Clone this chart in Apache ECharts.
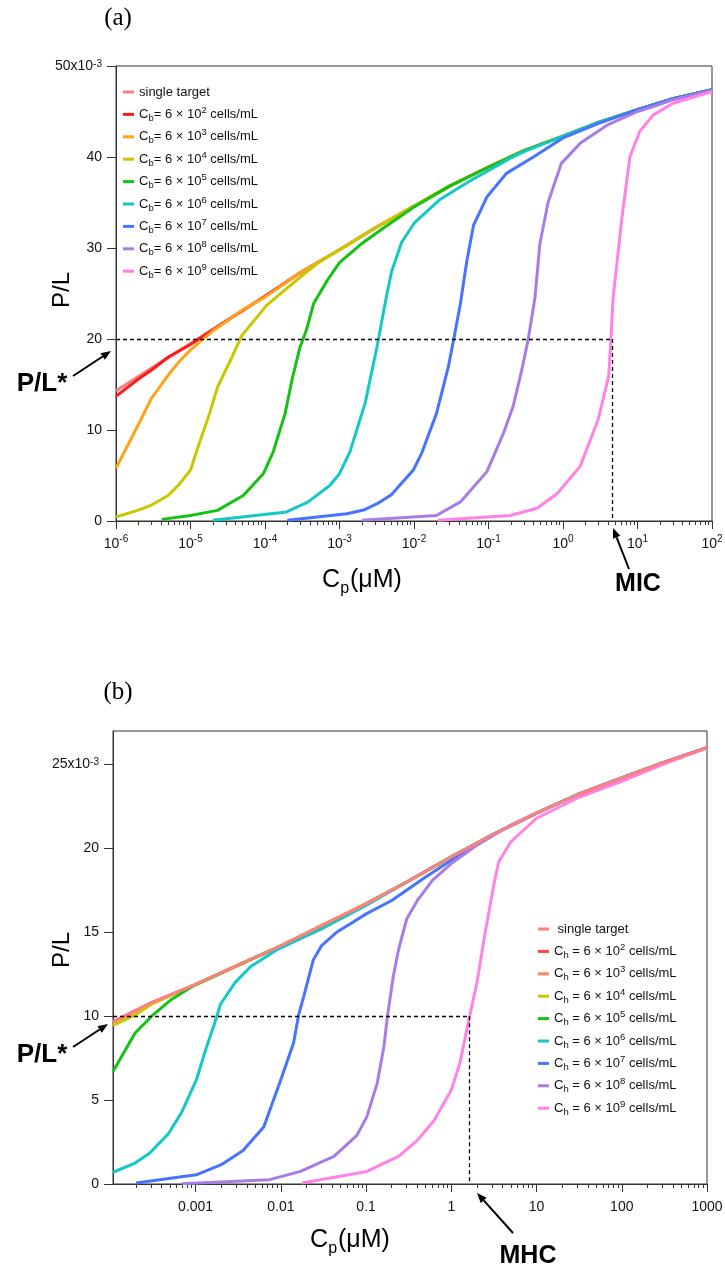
<!DOCTYPE html>
<html>
<head>
<meta charset="utf-8">
<title>P/L vs Cp</title>
<script src="https://cdn.jsdelivr.net/npm/echarts@6.0.0/dist/echarts.min.js"></script>
<style>
  html, body { margin: 0; padding: 0; background: #fff; }
  #chart { width: 725px; height: 1269px; }
</style>
</head>
<body>
<div id="chart"></div>
<script>
/* ---- panel (a): bacteria, [Cp (uM), P/L x1e-3] ---- */
var aSingle = [[1e-6,14.3],[3e-6,16.8],[1e-5,19.5],[3e-5,22.0],[1e-4,24.7],[3e-4,27.3],[1e-3,29.8],[3e-3,32.2],[1e-2,34.6],[3e-2,36.8],[0.1,38.9],[0.3,40.7],[1,42.3],[3,43.8],[10,45.2],[30,46.4],[100,47.4]];
var aCb2 = [[1e-6,13.7],[2e-6,15.6],[3e-6,16.6],[5e-6,18.0],[1e-5,19.4],[3e-5,21.95],[1e-4,24.7],[3e-4,27.3],[1e-3,29.8],[3e-3,32.2],[1e-2,34.6],[3e-2,36.8],[0.1,38.9],[0.3,40.7],[1,42.3],[3,43.8],[10,45.2],[30,46.4],[100,47.4]];
var aCb3 = [[1e-6,5.8],[2e-6,10.6],[3e-6,13.5],[5e-6,16.0],[7e-6,17.5],[1e-5,18.8],[2e-5,20.9],[3e-5,21.9],[5e-5,23.2],[1e-4,24.6],[3e-4,27.3],[1e-3,29.8],[3e-3,32.2],[1e-2,34.6],[3e-2,36.8],[0.1,38.9],[0.3,40.7],[1,42.3],[3,43.8],[10,45.2],[30,46.4],[100,47.4]];
var aCb4 = [[1e-6,0.44],[2e-6,1.2],[3e-6,1.75],[5e-6,2.8],[7e-6,4.0],[1e-5,5.6],[1.26e-5,8.1],[1.8e-5,11.8],[2.3e-5,14.7],[3.5e-5,17.8],[4.9e-5,20.4],[1.05e-4,23.7],[2.6e-4,26.4],[5e-4,28.3],[1e-3,29.8],[3e-3,32.2],[1e-2,34.6],[3e-2,36.8],[0.1,38.9],[0.3,40.7],[1,42.3],[3,43.8],[10,45.2],[30,46.4],[100,47.4]];
var aCb5 = [[4.1e-6,0.18],[1e-5,0.6],[2.3e-5,1.17],[5.1e-5,2.8],[9.5e-5,5.2],[1.29e-4,7.6],[1.86e-4,11.8],[2.3e-4,15.5],[2.95e-4,19.1],[3.6e-4,21.0],[4.5e-4,23.9],[6.8e-4,26.4],[1e-3,28.4],[2e-3,30.5],[3.9e-3,32.2],[1e-2,34.5],[3e-2,36.8],[0.1,38.9],[0.3,40.7],[1,42.3],[3,43.8],[10,45.2],[30,46.4],[100,47.4]];
var aCb6 = [[2.0e-5,0.07],[1.95e-4,1.0],[3.8e-4,2.1],[7.4e-4,3.9],[1.0e-3,5.2],[1.38e-3,7.6],[2.2e-3,12.9],[3.2e-3,19.2],[3.9e-3,23.0],[4.3e-3,24.8],[5.0e-3,27.4],[6.8e-3,30.6],[1.02e-2,32.8],[2.2e-2,35.3],[6.3e-2,37.6],[0.2,39.9],[0.3,40.6],[1,42.3],[3,43.8],[10,45.2],[30,46.4],[100,47.4]];
var aCb7 = [[2.0e-4,0.07],[1.26e-3,0.8],[2.1e-3,1.2],[3.2e-3,1.9],[5.0e-3,2.9],[9.8e-3,5.6],[1.26e-2,7.4],[2.0e-2,11.8],[2.9e-2,17.0],[3.4e-2,19.9],[4.2e-2,23.9],[5.1e-2,28.5],[6.3e-2,32.5],[9.5e-2,35.6],[0.174,38.2],[0.4,40.0],[1,42.1],[3,43.7],[10,45.2],[30,46.4],[100,47.4]];
var aCb8 = [[2.0e-3,0.07],[2.0e-2,0.6],[4.2e-2,2.1],[9.5e-2,5.4],[0.158,9.6],[0.214,12.6],[0.28,16.6],[0.34,19.9],[0.42,24.5],[0.49,30.5],[0.63,35.0],[0.95,39.3],[1.7,41.5],[3.9,43.5],[10,45.0],[20,45.8],[30,46.3],[100,47.3]];
var aCb9 = [[2.1e-2,0.07],[0.195,0.6],[0.45,1.4],[0.83,3.0],[1.7,6.0],[2.95,11.1],[4.1,15.9],[4.4,19.9],[4.7,24.5],[6.2,33.4],[7.9,40.0],[10.7,42.8],[16.2,44.6],[30,45.9],[100,47.2]];

/* ---- panel (b): red blood cells ---- */
var bSingle = [[1.073e-4,9.7],[3e-4,10.8],[1e-3,11.9],[3e-3,13.0],[1e-2,14.2],[3e-2,15.4],[0.1,16.7],[0.3,18.0],[1,19.5],[3,20.8],[10,22.1],[30,23.2],[100,24.2],[300,25.1],[1000,26.0]];
var bCh2 = [[1.073e-4,9.65],[3e-4,10.8],[1e-3,11.9],[3e-3,13.0],[1e-2,14.2],[3e-2,15.4],[0.1,16.7],[0.3,18.0],[1,19.5],[3,20.8],[10,22.1],[30,23.2],[100,24.2],[300,25.1],[1000,26.0]];
var bCh3 = [[1.073e-4,9.6],[3e-4,10.75],[1e-3,11.9],[3e-3,13.0],[1e-2,14.2],[3e-2,15.4],[0.1,16.7],[0.3,18.0],[1,19.5],[3,20.8],[10,22.1],[30,23.2],[100,24.2],[300,25.1],[1000,26.0]];
var bCh4 = [[1.073e-4,9.45],[2e-4,10.1],[3e-4,10.7],[1e-3,11.9],[3e-3,13.0],[1e-2,14.2],[3e-2,15.4],[0.1,16.7],[0.3,18.0],[1,19.5],[3,20.8],[10,22.1],[30,23.2],[100,24.2],[300,25.1],[1000,26.0]];
var bCh5 = [[1.073e-4,6.7],[1.95e-4,9.0],[3.2e-4,10.1],[5.2e-4,11.0],[9.3e-4,11.8],[2.75e-3,12.9],[7.5e-3,13.9],[3e-2,15.3],[0.1,16.7],[0.3,18.0],[1,19.5],[3,20.8],[10,22.1],[30,23.2],[100,24.2],[300,25.1],[1000,26.0]];
var bCh6 = [[1.073e-4,0.7],[1.95e-4,1.25],[2.9e-4,1.85],[4.8e-4,3.0],[6.9e-4,4.3],[1.02e-3,6.2],[1.35e-3,8.2],[1.78e-3,10.0],[1.95e-3,10.7],[2.9e-3,12.0],[4.4e-3,12.95],[8.9e-3,13.95],[3e-2,15.2],[0.1,16.6],[0.3,18.0],[1,19.5],[3,20.8],[10,22.1],[30,23.2],[100,24.2],[300,25.1],[1000,26.0]];
var bCh7 = [[2.0e-4,0.06],[1.02e-3,0.55],[2.0e-3,1.15],[3.6e-3,2.0],[6.3e-3,3.4],[9.8e-3,6.1],[1.41e-2,8.4],[1.62e-2,10.1],[1.86e-2,11.2],[2.4e-2,13.35],[3.0e-2,14.2],[4.5e-2,15.0],[0.07,15.6],[0.1,16.1],[0.2,16.9],[0.5,18.3],[1,19.3],[3,20.8],[10,22.1],[30,23.2],[100,24.2],[300,25.1],[1000,26.0]];
var bCh8 = [[6.9e-4,0.02],[7.4e-3,0.26],[1.7e-2,0.75],[4.2e-2,1.65],[7.8e-2,2.9],[0.102,4.0],[0.135,6.0],[0.162,8.2],[0.178,10.0],[0.209,12.4],[0.24,13.95],[0.3,15.8],[0.4,16.9],[0.6,18.1],[1,19.1],[2,20.2],[5,21.4],[10,22.1],[30,23.2],[100,24.2],[300,25.1],[1000,26.0]];
var bCh9 = [[1.78e-2,0.06],[0.102,0.75],[0.24,1.65],[0.4,2.6],[0.63,3.8],[1.0,5.6],[1.26,7.2],[1.64,10.0],[2.0,12.0],[2.5,15.0],[3.2,18.0],[3.6,19.2],[5,20.4],[10,21.8],[30,23.0],[100,24.0],[300,25.0],[1000,26.0]];

/* threshold guides */
var aThreshold = 20, aMIC = 4.55;
var bThreshold = 10, bMHC = 1.64;

/* ticks */
var aDecades = [1e-6, 1e-5, 1e-4, 1e-3, 1e-2, 1e-1, 1, 10, 100];
var bDecades = [1e-4, 1e-3, 1e-2, 1e-1, 1, 10, 100, 1000];
var bMajorX = [0.001, 0.01, 0.1, 1, 10, 100, 1000];
var aTicksY = [0, 10, 20, 30, 40, 50];
var bTicksY = [0, 5, 10, 15, 20, 25];

/* legend texts and colours */
var aLegend = ['single target',
  'C{sub|b}= 6 × 10{sup|2} cells/mL', 'C{sub|b}= 6 × 10{sup|3} cells/mL', 'C{sub|b}= 6 × 10{sup|4} cells/mL',
  'C{sub|b}= 6 × 10{sup|5} cells/mL', 'C{sub|b}= 6 × 10{sup|6} cells/mL', 'C{sub|b}= 6 × 10{sup|7} cells/mL',
  'C{sub|b}= 6 × 10{sup|8} cells/mL', 'C{sub|b}= 6 × 10{sup|9} cells/mL'];
var bLegend = [' single target',
  'C{sub|h} = 6 × 10{sup|2} cells/mL', 'C{sub|h} = 6 × 10{sup|3} cells/mL', 'C{sub|h} = 6 × 10{sup|4} cells/mL',
  'C{sub|h} = 6 × 10{sup|5} cells/mL', 'C{sub|h} = 6 × 10{sup|6} cells/mL', 'C{sub|h} = 6 × 10{sup|7} cells/mL',
  'C{sub|h} = 6 × 10{sup|8} cells/mL', 'C{sub|h} = 6 × 10{sup|9} cells/mL'];
var aColors = ['#f58282', '#ff1a1a', '#ffa31a', '#c8c800', '#14c214', '#14c8c8', '#4673ff', '#a87ce6', '#ff82e6'];
var bColors = ['#ff8080', '#ff4444', '#ff8a50', '#c8c800', '#14c214', '#14c8c8', '#4673ff', '#a87ce6', '#ff82e6'];

window.onload = function(){
	var FONT = 'Liberation Sans, Arial, sans-serif';
	var AXIS = '#333';

	function minorTicks(decades){
		var out = [];
		for (var i = 0; i < decades.length - 1; i++) {
			for (var k = 2; k < 10; k++) out.push(k * decades[i]);
		}
		return out;
	}

	var supSub = {
		sup: { fontSize: 9.5, lineHeight: 8, verticalAlign: 'top', fontFamily: FONT, color: '#111' },
		sub: { fontSize: 9.5, lineHeight: 8, verticalAlign: 'bottom', fontFamily: FONT, color: '#111' }
	};
	var tickRich = {
		sup: { fontSize: 10, lineHeight: 9, verticalAlign: 'top', fontFamily: FONT, color: '#111' }
	};

	/* arrow made of a line and a head */
	function arrow(x1, y1, x2, y2){
		var dx = x2 - x1, dy = y2 - y1, len = Math.sqrt(dx * dx + dy * dy);
		var ux = dx / len, uy = dy / len, hl = 10, hw = 4;
		var bx = x2 - ux * hl, by = y2 - uy * hl;
		return [
			{ type: 'line', shape: { x1: x1, y1: y1, x2: bx, y2: by }, style: { stroke: '#000', lineWidth: 2 } },
			{ type: 'polygon', shape: { points: [[x2, y2], [bx - uy * hw, by + ux * hw], [bx + uy * hw, by - ux * hw]] }, style: { fill: '#000' } }
		];
	}
	function label(text, x, y, size, weight, family){
		return { type: 'text', x: x, y: y, style: { text: text, fill: '#000', font: (weight || 'normal') + ' ' + size + 'px ' + (family || FONT), align: 'center', verticalAlign: 'middle' } };
	}
	function subLabel(x, y){
		return { type: 'text', x: x, y: y, style: { text: 'C{sub|p}(μM)', fill: '#000', font: '25px ' + FONT, lineHeight: 34, align: 'center', verticalAlign: 'middle',
			rich: { sub: { fontSize: 16, lineHeight: 14, verticalAlign: 'bottom', fontFamily: FONT, fill: '#000', padding: [0, 1, 0, 0] } } } };
	}

	function line(name, data, color, xi, yi, z, extra){
		var s = {
			name: name, type: 'line', xAxisIndex: xi, yAxisIndex: yi, data: data,
			showSymbol: false, symbol: 'none', silent: true, animation: false, z: z || 2,
			lineStyle: { color: color, width: 3 }, itemStyle: { color: color }
		};
		if (extra) s.markLine = extra;
		return s;
	}
	function guide(xmin, thr, xcut){
		return {
			silent: true, symbol: 'none', animation: false,
			label: { show: false },
			lineStyle: { color: '#000', width: 1.3, type: [4, 3] },
			data: [
				[{ coord: [xmin, thr] }, { coord: [xcut, thr] }],
				[{ coord: [xcut, thr] }, { coord: [xcut, 0] }]
			]
		};
	}

	function legendFor(keys, texts, left, top){
		var map = {};
		keys.forEach(function(k, i){ map[k] = texts[i]; });
		return {
			orient: 'vertical', left: left, top: top, padding: 0,
			itemWidth: 11, itemHeight: 3, itemGap: 4.4, icon: 'rect',
			selectedMode: false, data: keys,
			formatter: function(n){ return map[n]; },
			textStyle: { fontFamily: FONT, fontSize: 13, color: '#111', lineHeight: 18, rich: supSub }
		};
	}

	var aKeys = [], bKeys = [];
	for (var i = 0; i < 9; i++) { aKeys.push('a' + i); bKeys.push('b' + i); }

	var aData = [aSingle, aCb2, aCb3, aCb4, aCb5, aCb6, aCb7, aCb8, aCb9];
	var bData = [bSingle, bCh2, bCh3, bCh4, bCh5, bCh6, bCh7, bCh8, bCh9];

	var series = [];
	aData.forEach(function(d, i){
		series.push(line(aKeys[i], d, aColors[i], 0, 0, 2, i === 8 ? guide(1e-6, aThreshold, aMIC) : null));
	});
	bData.forEach(function(d, i){
		series.push(line(bKeys[i], d, bColors[i], 2, 1, i === 0 ? 4 : 2, i === 0 ? guide(1.073e-4, bThreshold, bMHC) : null));
	});

	var labelBase = { fontFamily: FONT, fontSize: 14, color: '#111' };

	var option = {
		backgroundColor: '#fff',
		animation: false,
		grid: [
			{ left: 116, top: 66, width: 596, height: 455, show: true, borderColor: AXIS, borderWidth: 1, outerBoundsMode: 'none' },
			{ left: 113, top: 731, width: 594, height: 453, show: true, borderColor: AXIS, borderWidth: 1, outerBoundsMode: 'none' }
		],
		xAxis: [
			{ gridIndex: 0, type: 'log', logBase: 10, min: 1e-6, max: 100, position: 'bottom',
			  axisLine: { show: true, lineStyle: { color: AXIS } },
			  axisTick: { show: true, length: 8, customValues: aDecades, lineStyle: { color: AXIS } },
			  axisLabel: Object.assign({}, labelBase, { customValues: aDecades, margin: 13, lineHeight: 20, rich: tickRich,
			    formatter: function(v){ return '10{sup|' + Math.round(Math.log(v) / Math.LN10) + '}'; } }),
			  splitLine: { show: false } },
			{ gridIndex: 0, type: 'log', logBase: 10, min: 1e-6, max: 100, position: 'bottom',
			  axisLine: { show: false },
			  axisTick: { show: true, length: 4, customValues: minorTicks(aDecades), lineStyle: { color: AXIS } },
			  axisLabel: { show: false }, splitLine: { show: false } },
			{ gridIndex: 1, type: 'log', logBase: 10, min: 1.073e-4, max: 1000, position: 'bottom',
			  axisLine: { show: true, lineStyle: { color: AXIS } },
			  axisTick: { show: true, length: 8, customValues: bMajorX, lineStyle: { color: AXIS } },
			  axisLabel: Object.assign({}, labelBase, { customValues: bMajorX, margin: 16,
			    formatter: function(v){ return String(v); } }),
			  splitLine: { show: false } },
			{ gridIndex: 1, type: 'log', logBase: 10, min: 1.073e-4, max: 1000, position: 'bottom',
			  axisLine: { show: false },
			  axisTick: { show: true, length: 4, customValues: minorTicks(bDecades), lineStyle: { color: AXIS } },
			  axisLabel: { show: false }, splitLine: { show: false } }
		],
		yAxis: [
			{ gridIndex: 0, type: 'value', min: 0, max: 50, interval: 10,
			  axisLine: { show: true, lineStyle: { color: AXIS } },
			  axisTick: { show: true, length: 9, customValues: aTicksY, lineStyle: { color: AXIS } },
			  axisLabel: Object.assign({}, labelBase, { customValues: aTicksY, margin: 14, rich: tickRich,
			    formatter: function(v){ return v === 50 ? '50x10{sup|-3}' : String(v); } }),
			  splitLine: { show: false } },
			{ gridIndex: 1, type: 'value', min: 0, max: 27, interval: 5,
			  axisLine: { show: true, lineStyle: { color: AXIS } },
			  axisTick: { show: true, length: 9, customValues: bTicksY, lineStyle: { color: AXIS } },
			  axisLabel: Object.assign({}, labelBase, { customValues: bTicksY, margin: 14, rich: tickRich,
			    formatter: function(v){ return v === 25 ? '25x10{sup|-3}' : String(v); } }),
			  splitLine: { show: false } }
		],
		legend: [
			legendFor(aKeys, aLegend, 123, 83),
			legendFor(bKeys, bLegend, 538, 920)
		],
		graphic: [
			label('(a)', 118, 18, 25, 'normal', 'Liberation Serif, DejaVu Serif, serif'),
			label('(b)', 118, 692, 25, 'normal', 'Liberation Serif, DejaVu Serif, serif'),
			{ type: 'text', x: 62, y: 290, rotation: Math.PI / 2, style: { text: 'P/L', fill: '#000', font: '24px ' + FONT, align: 'center', verticalAlign: 'middle' } },
			{ type: 'text', x: 62, y: 950, rotation: Math.PI / 2, style: { text: 'P/L', fill: '#000', font: '24px ' + FONT, align: 'center', verticalAlign: 'middle' } },
			subLabel(362, 580),
			subLabel(350, 1240),
			label('P/L*', 42, 384, 26, 'bold'),
			label('P/L*', 42, 1055, 26, 'bold'),
			label('MIC', 638, 584, 25, 'bold'),
			label('MHC', 528, 1256, 25, 'bold')
		].concat(arrow(73, 376, 111, 351), arrow(629, 569, 613, 528), arrow(73, 1047, 108, 1024), arrow(513, 1233, 477, 1193)),
		series: series
	};

	var chart = echarts.init(document.getElementById('chart'), null, { renderer: 'canvas' });
	chart.setOption(option);
};
</script>
</body>
</html>
